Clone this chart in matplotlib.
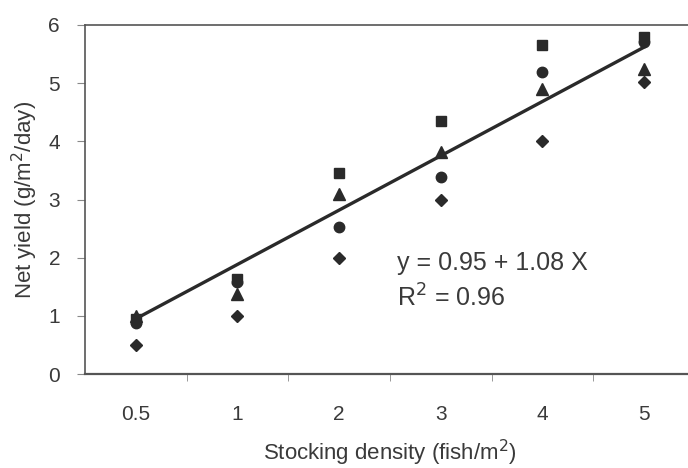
"""Net yield vs stocking density scatter with regression line."""

import matplotlib

matplotlib.use("Agg")
import matplotlib.pyplot as plt
import numpy as np

CATEGORIES = ["0.5", "1", "2", "3", "4", "5"]
SQUARES = [0.95, 1.64, 3.45, 4.35, 5.65, 5.80]
CIRCLES = [0.88, 1.58, 2.52, 3.38, 5.20, 5.70]
TRIANGLES = [1.00, 1.38, 3.10, 3.81, 4.90, 5.25]
DIAMONDS = [0.50, 1.00, 2.00, 3.00, 4.00, 5.02]
FIT_ENDS = [0.95, 5.62]
EQUATION = "y = 0.95 + 1.08 X"
R2_TEXT = "R$^2$ = 0.96"

INK = "#2a2a2a"
TEXT = "#3a3a3a"

plt.rcParams["font.family"] = ["Liberation Sans", "DejaVu Sans"]

fig = plt.figure(figsize=(6.88, 4.68), dpi=100)
ax = fig.add_axes([85 / 688, (468 - 374) / 468, 610 / 688, 349 / 468])

x = np.arange(len(CATEGORIES))
ax.plot(x, SQUARES, "s", color=INK, markersize=7, zorder=3)
ax.plot(x, CIRCLES, "o", color=INK, markersize=7.5, zorder=3)
ax.plot(x, TRIANGLES, "^", color=INK, markersize=8.5, zorder=3)
ax.plot(x, DIAMONDS, "D", color=INK, markersize=6.5, zorder=3)
ax.plot([x[0], x[-1]], FIT_ENDS, color=INK, linewidth=2.4, zorder=2)

ax.set_xlim(-0.5, len(CATEGORIES) - 0.5)
ax.set_ylim(0, 6)
ax.set_xticks(x)
ax.set_xticklabels(CATEGORIES)
ax.set_xticks(x[:-1] + 0.5, minor=True)
ax.tick_params(axis="x", which="major", length=0, pad=22, labelsize=15, labelcolor=TEXT)
ax.tick_params(axis="x", which="minor", length=5, color="#888888", direction="out")
ax.set_yticks(range(7))
ax.tick_params(axis="y", length=6, color="#888888", labelsize=15, labelcolor=TEXT, pad=12)

for side in ("top", "left", "right"):
    ax.spines[side].set_color("#555555")
    ax.spines[side].set_linewidth(1.2)
ax.spines["bottom"].set_color("#555555")
ax.spines["bottom"].set_linewidth(1.6)

ax.set_xlabel("Stocking density (fish/m$^2$)", fontsize=16, color=TEXT, labelpad=10)
ax.set_ylabel("Net yield (g/m$^2$/day)", fontsize=16, color=TEXT, labelpad=6)

ax.text(2.57, 1.91, EQUATION, fontsize=18, color=TEXT, va="center")
ax.text(2.57, 1.31, R2_TEXT, fontsize=18, color=TEXT, va="center")

fig.savefig("out.png", dpi=100)
